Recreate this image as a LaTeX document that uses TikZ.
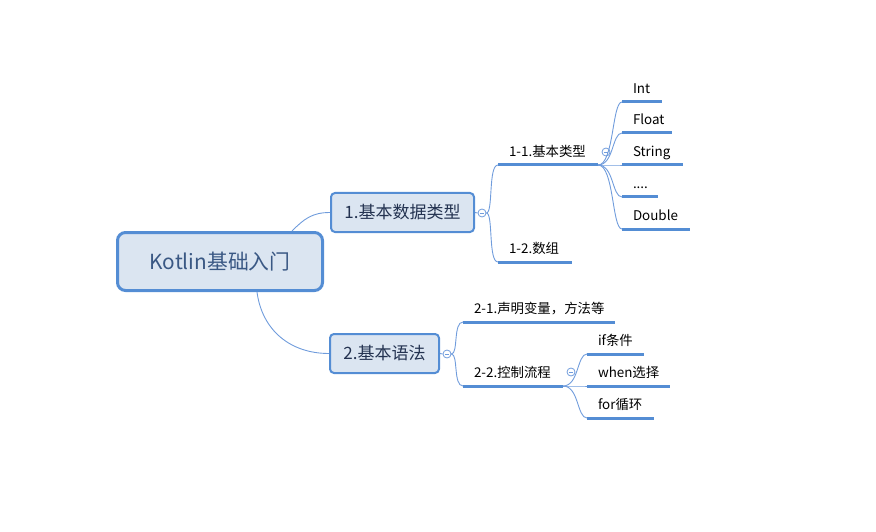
\documentclass[tikz,border=0pt]{standalone}
\usepackage{fontspec}
\setmainfont{Noto Sans CJK SC}
\usepackage{tikz}
\definecolor{mapblue}{RGB}{84,141,212}
\definecolor{mapfill}{RGB}{219,229,241}
\definecolor{thinblue}{RGB}{112,156,220}
\definecolor{roottext}{RGB}{58,88,132}
\definecolor{topictext}{RGB}{35,50,80}
\tikzstyle{root}=[draw=mapblue, fill=mapfill, line width=3pt, rounded corners=8pt, minimum width=205pt, minimum height=58pt, text=roottext, font=\fontsize{20.8}{24}\selectfont]
\tikzstyle{topic}=[draw=mapblue, fill=mapfill, line width=2pt, rounded corners=4pt, minimum height=39pt, text=topictext, font=\fontsize{17}{20}\selectfont]
\tikzstyle{leaf}=[anchor=south west, outer sep=0pt, inner xsep=11pt, inner ysep=5pt, text height=10pt, text depth=3.5pt, align=left, font=\fontsize{13.4}{16}\selectfont]
\tikzstyle{toggle}=[circle, draw=thinblue, fill=white, line width=0.8pt, minimum size=8pt, inner sep=0pt, path picture={\draw[thinblue, line width=0.7pt] ([xshift=-2.2pt]path picture bounding box.center) -- ([xshift=2.2pt]path picture bounding box.center);}]
\tikzstyle{branch}=[draw=thinblue, line width=0.9pt]
\tikzstyle{under}=[draw=mapblue, line width=3pt]

\begin{document}
\begin{tikzpicture}[x=1pt, y=-1pt]
		\useasboundingbox (0,0) rectangle (876,532);
		\begin{scope}
			\node (root) at (220,261.5)[root] {Kotlin基础入门};
			\node (n1) at (402.5,212.5)[topic, minimum width=143pt] {1.基本数据类型};
			\node (n2) at (384.5,353.5)[topic, minimum width=109pt] {2.基本语法};
			\node (n11) at (498,165)[leaf, text width=78pt] {\mbox{1-1.基本类型}};
			\node (n12) at (498,262)[leaf, text width=52pt] {\mbox{1-2.数组}};
			\node (int) at (622,102)[leaf, text width=18pt] {Int};
			\node (float) at (622,133)[leaf, text width=28pt] {Float};
			\node (string) at (622,165)[leaf, text width=39pt] {String};
			\node (dots) at (622,197)[leaf, text width=14pt] {....};
			\node (double) at (622,229)[leaf, text width=46pt] {Double};
			\node (n21) at (463,322)[leaf, text width=130pt] {\mbox{2-1.声明变量，方法等}};
			\node (n22) at (463,386)[leaf, text width=78pt] {\mbox{2-2.控制流程}};
			\node (ifc) at (587,354)[leaf, text width=35pt] {\mbox{if条件}};
			\node (whenc) at (587,386)[leaf, text width=61pt] {\mbox{when选择}};
			\node (forc) at (587,418)[leaf, text width=45pt] {\mbox{for循环}};
		\end{scope}
		\begin{scope}
			\path [branch] ([xshift=-32pt]root.north east) .. controls +(12,-12) and +(-18,0) .. (n1.west);
			\path [branch] ([xshift=37pt]root.south) .. controls +(5,38) and +(-39,0) .. (n2.west);
			\node (c1) at (482,213)[toggle] {};
			\node (c2) at (447,354)[toggle] {};
			\node (c11) at (606,152)[toggle] {};
			\node (c22) at (571,372)[toggle] {};
			\path [branch] (n1.east) -- (c1.west);
			\path [branch] (n2.east) -- (c2.west);
			\foreach \t in {n11,n12}
				\path [branch] (c1.east) .. controls +(7,0) and +(-10,0) .. (\t.south west);
			\foreach \t in {n21,n22}
				\path [branch] (c2.east) .. controls +(7,0) and +(-10,0) .. (\t.south west);
			\foreach \t in {int,float,string,dots,double}
				\path [branch] (n11.south east) .. controls +(16,0) and +(-10,0) .. (\t.south west);
			\foreach \t in {ifc,whenc,forc}
				\path [branch] (n22.south east) .. controls +(16,0) and +(-10,0) .. (\t.south west);
			\foreach \t in {n11,n12,int,float,string,dots,double,n21,n22,ifc,whenc,forc}
				\path [under] (\t.south west) -- (\t.south east);
		\end{scope}
\end{tikzpicture}
\end{document}
